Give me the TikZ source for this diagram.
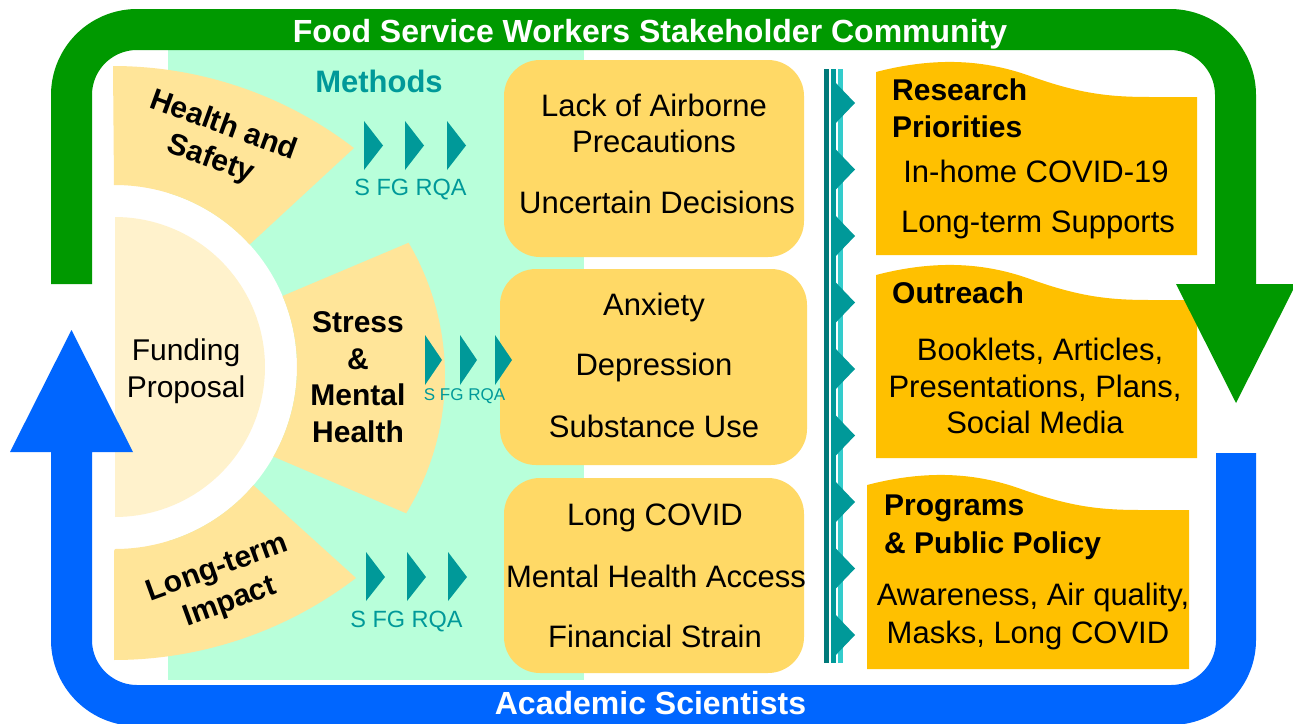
\documentclass[tikz,border=0pt]{standalone}
\usepackage{fontspec}
\setmainfont{Liberation Sans}
\newcommand\fsz[2]{\fontsize{#1}{#2}\selectfont}
\definecolor{gband}{HTML}{009900}
\definecolor{bband}{HTML}{0066FF}
\definecolor{mint}{HTML}{B8FFDA}
\definecolor{wedge}{HTML}{FFE599}
\definecolor{cream}{HTML}{FFF2CC}
\definecolor{midbox}{HTML}{FFD966}
\definecolor{gold}{HTML}{FFC000}
\definecolor{tealc}{HTML}{009999}
\definecolor{darkteal}{HTML}{007A7A}
\definecolor{lightcyan}{HTML}{33CCCC}
\begin{document}
\begin{tikzpicture}[x=1pt,y=-1pt,
  every node/.style={inner sep=0pt},
  reg/.style={anchor=base, font=\fsz{31}{37}},
  regb/.style={anchor=base, font=\fsz{30}{37}\bfseries},
  band text/.style={anchor=base, text=white, font=\fsz{32}{38}\bfseries},
  method/.style={anchor=base, text=tealc},
  roundbox/.style={fill=midbox, rounded corners=36pt},
  chev/.style={fill=tealc}]
\useasboundingbox (0,0) rectangle (1293,723);
\fill[white] (0,0) rectangle (1293,723);

% methods background
\fill[mint] (168,50) rectangle (584,680);

% white ring and funding half disk
\fill[white] (115,185) -- plot[domain=-90:90,samples=80] ({115+182*cos(\x)},{367+182*sin(\x)}) -- cycle;
\fill[cream] (115,217) -- plot[domain=-90:90,samples=80] ({115+150*cos(\x)},{367+150*sin(\x)}) -- cycle;

% topic wedges
\fill[wedge] (114,185) -- plot[domain=-90:-42.3,samples=40] ({115+182*cos(\x)},{367+182*sin(\x)})
  -- (354,148) -- plot[domain=-52.4:-90,samples=40] ({113+395*cos(\x)},{461+395*sin(\x)}) -- cycle;
\fill[wedge] (282.5,296) -- (408,243) -- plot[domain=-30.6:31.6,samples=50] ({183+262*cos(\x)},{376+262*sin(\x)})
  -- (273.4,456.6) -- plot[domain=29.5:-23,samples=40] ({115+182*cos(\x)},{367+182*sin(\x)}) -- cycle;
\fill[wedge] (114,551) -- plot[domain=90:40.5,samples=40] ({115+182*cos(\x)},{367+182*sin(\x)})
  -- (356,578) -- plot[domain=52.6:90,samples=40] ({114+398*cos(\x)},{262+398*sin(\x)}) -- cycle;

% finding boxes
\node[roundbox, minimum width=300pt, minimum height=197pt] (box1) at (654,158.5) {};
\node[roundbox, minimum width=307pt, minimum height=196pt] (box2) at (653.5,367) {};
\node[roundbox, minimum width=300pt, minimum height=195pt] (box3) at (654,575.5) {};

% method chevrons
\foreach \px in {364,405,447} \fill[chev] (\px,121) -- ({\px+19},145.5) -- (\px,170) -- cycle;
\foreach \px in {425,460,495} \fill[chev] (\px,335) -- ({\px+17},360) -- (\px,385) -- cycle;
\foreach \px in {366,407,448} \fill[chev] (\px,552) -- ({\px+19},577) -- (\px,601) -- cycle;

% separator bar with arrow heads
\fill[darkteal] (824,69) rectangle (829,663);
\fill[tealc] (831,69) rectangle (836,663);
\fill[lightcyan] (838,69) rectangle (843,663);
\foreach \i in {0,...,8} \fill[chev] (832,{79+66.5*\i}) -- (855,{103+66.5*\i}) -- (832,{127+66.5*\i}) -- cycle;

% outcome boxes with wavy tops
\foreach \x/\y/\xr/\yb in {876/72/1197/255, 876/275/1197/458, 867/485/1189/669}
  \fill[gold] (\x,\y) .. controls ({\x+54},{\y-14}) and ({\x+104},{\y-14}) .. ({\x+154},{\y+4})
    .. controls ({\x+204},{\y+22}) and ({\x+234},{\y+25}) .. ({\x+274},{\y+25})
    -- (\xr,{\y+25}) -- (\xr,\yb) -- (\x,\yb) -- cycle;

% stakeholder loop (green) and scientist loop (blue)
\fill[gband] (51,284) -- plot[domain=180:270,samples=40] ({137+86*cos(\x)},{95+86*sin(\x)})
  -- plot[domain=270:360,samples=40] ({1170+86*cos(\x)},{95+86*sin(\x)})
  -- (1256,284) -- (1296,284) -- (1236,403) -- (1176,284) -- (1215,284)
  -- plot[domain=360:270,samples=40] ({1170+45*cos(\x)},{95+45*sin(\x)})
  -- plot[domain=270:180,samples=40] ({137+45*cos(\x)},{95+45*sin(\x)}) -- (92,284) -- cycle;
\fill[bband] (51,452) -- (10,452) -- (71.5,330) -- (133,452) -- (92,452) -- (92,640)
  -- plot[domain=180:90,samples=40] ({137+45*cos(\x)},{640+45*sin(\x)})
  -- plot[domain=90:0,samples=40] ({1171+45*cos(\x)},{640+45*sin(\x)})
  -- (1216,453) -- (1256,453)
  -- plot[domain=0:90,samples=40] ({1171+85*cos(\x)},{640+85*sin(\x)})
  -- plot[domain=90:180,samples=40] ({137+86*cos(\x)},{640+86*sin(\x)}) -- cycle;

% band labels
\node[band text] (community) at (650,42) {Food Service Workers Stakeholder Community};
\node[band text] (academics) at (650.5,714) {Academic Scientists};

% left side labels
\node[anchor=base, text=tealc, font=\fsz{31}{37}\bfseries] (methods) at (379,92) {Methods};
\node[reg, font=\fsz{30}{37}] (fund1) at (186,360) {Funding};
\node[reg, font=\fsz{30}{37}] (fund2) at (186,397) {Proposal};
\node[align=center, rotate=-20, font=\fsz{30}{36}\bfseries] (health) at (217,143) {Health and\\Safety};
\node[regb] (stress1) at (358,332) {Stress};
\node[regb] (stress2) at (358,369) {\&};
\node[regb] (stress3) at (358,405) {Mental};
\node[regb] (stress4) at (358,442) {Health};
\node[align=center, rotate=20, font=\fsz{30}{36}\bfseries] (longterm) at (224,586) {Long-term\\Impact};
\node[method, font=\fsz{23.5}{28}] (m1) at (410.5,195) {S FG RQA};
\node[method, font=\fsz{17}{20}] (m2) at (464.5,400) {S FG RQA};
\node[method, font=\fsz{23.5}{28}] (m3) at (406.5,627) {S FG RQA};

% findings
\node[reg] (b1a) at (654,116) {Lack of Airborne};
\node[reg] (b1b) at (654,152) {Precautions};
\node[reg] (b1c) at (657,213) {Uncertain Decisions};
\node[reg] (b2a) at (654,315) {Anxiety};
\node[reg] (b2b) at (654,375) {Depression};
\node[reg] (b2c) at (654,437) {Substance Use};
\node[reg] (b3a) at (655,525) {Long COVID};
\node[reg] (b3b) at (656,587) {Mental Health Access};
\node[reg] (b3c) at (655,647) {Financial Strain};

% outcomes
\node[regb, anchor=base west] (r1a) at (892,100) {Research};
\node[regb, anchor=base west] (r1b) at (892,137) {Priorities};
\node[reg] (r1c) at (1036,182) {In-home COVID-19};
\node[reg] (r1d) at (1038,232) {Long-term Supports};
\node[regb, anchor=base west] (r2a) at (892,303) {Outreach};
\node[reg] (r2b) at (1040,360) {Booklets, Articles,};
\node[reg] (r2c) at (1035,397) {Presentations, Plans,};
\node[reg] (r2d) at (1035,433) {Social Media};
\node[regb, anchor=base west] (r3a) at (884,515) {Programs};
\node[regb, anchor=base west] (r3b) at (884,553) {\& Public Policy};
\node[reg] (r3c) at (1033,605) {Awareness, Air quality,};
\node[reg] (r3d) at (1028,643) {Masks, Long COVID};
\end{tikzpicture}
\end{document}
